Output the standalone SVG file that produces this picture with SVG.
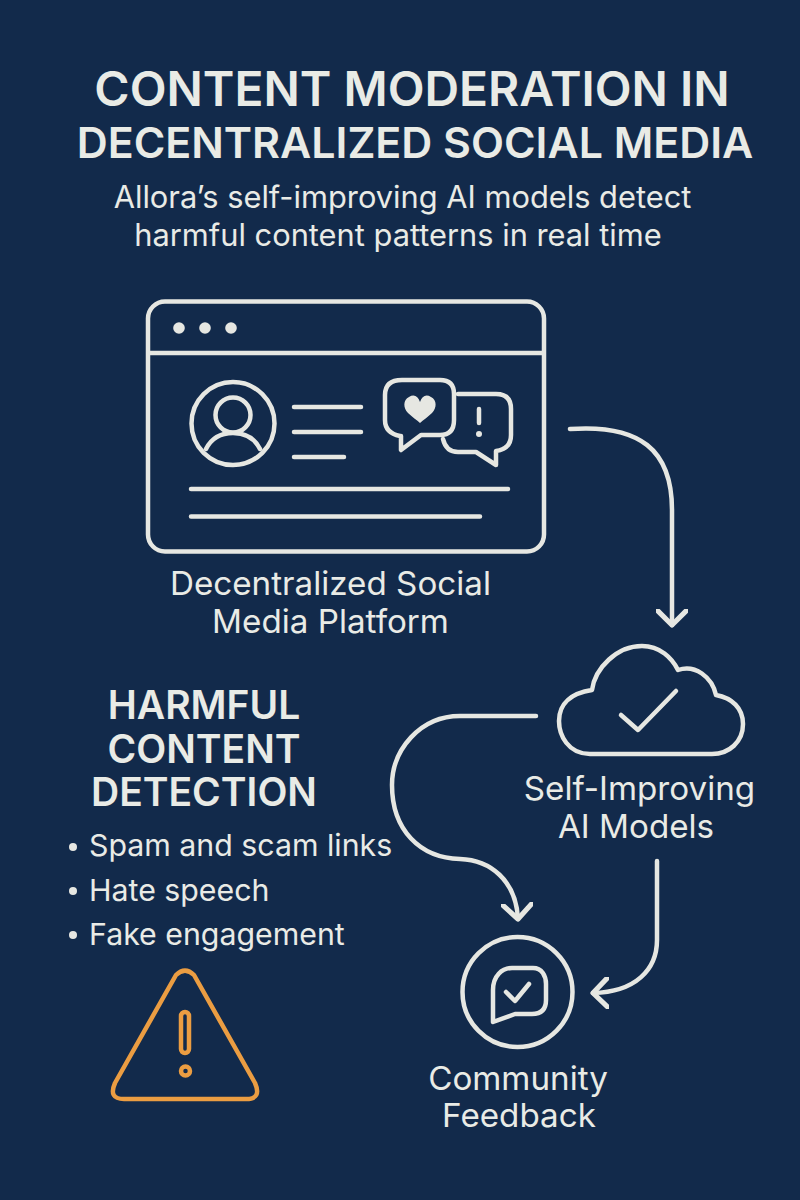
<svg xmlns="http://www.w3.org/2000/svg" width="800" height="1200" viewBox="0 0 800 1200">
<style>
text{font-family:Inter,"Noto Sans","Liberation Sans",sans-serif;fill:#e9ebe6;text-anchor:middle}
.t{font-size:47.900px;font-weight:600}
.h{font-size:42.900px;font-weight:600}
.d{font-size:39px;font-weight:600}
.s{font-size:30.800px}
.l{font-size:33.200px}
.b{font-size:30.300px;text-anchor:start}
.o{fill:none;stroke:#e6e7e2;stroke-width:4.5;stroke-linecap:round;stroke-linejoin:round}
.f{fill:#e6e7e2}
.w{fill:none;stroke:#eb9d42;stroke-width:4.5;stroke-linecap:round;stroke-linejoin:round}
</style>
<defs><marker id="a" markerUnits="userSpaceOnUse" markerWidth="32" markerHeight="32" refX="14" refY="14" orient="auto" viewBox="0 0 28 28"><path d="M1 1L14 14L1 27" fill="none" stroke="#e6e7e2" stroke-width="4.5" stroke-linecap="round" stroke-linejoin="round"/></marker></defs>
<rect width="800" height="1200" fill="#122a4b"/>
<g id="title">
<text class="t" x="412" y="106">CONTENT MODERATION IN</text>
<text class="h" x="415" y="158">DECENTRALIZED SOCIAL MEDIA</text>
<text class="s" x="402.500" y="208">Allora’s self-improving AI models detect</text>
<text class="s" x="398" y="246">harmful content patterns in real time</text>
</g>
<g id="platform">
<rect class="o" x="148" y="301.500" width="396" height="250" rx="17"/>
<path class="o" d="M150 353H542"/>
<circle class="f" cx="179" cy="328" r="5.800"/><circle class="f" cx="205" cy="328" r="5.800"/><circle class="f" cx="231" cy="328" r="5.800"/>
<circle class="o" cx="233" cy="423.500" r="41.500"/>
<circle class="o" cx="233" cy="415" r="17.500"/>
<path class="o" d="M206 449C212 437 222 433 233 433S254 437 260 449"/>
<path class="o" d="M294 407H361M294 432H361M294 457H344M191 489H508M191 516.500H480"/>
<path class="o" d="M402 380H440Q454 380 454 394V420Q454 435 440 435H421L401 450V436H400Q385 433 385 420V395Q385 380 402 380Z"/>
<path class="o" d="M458 394H496Q511 394 511 409V435Q511 449 496 451V465L476 452H458Q446 452 443 439"/>
<path class="f" d="M420 402C418 396 414 394 409 397C403 400 403 408 408 413C412 417 417 420 420 423C423 420 428 417 432 413C437 408 437 400 431 397C426 394 422 396 420 402Z"/>
<path class="o" d="M479 409V423"/><circle class="f" cx="479" cy="434" r="3"/>
<text class="l" x="330.500" y="595">Decentralized Social</text>
<text class="l" x="330.500" y="633">Media Platform</text>
</g>
<g id="ai-models">
<path class="o" d="M590 754C568 754 559 735 559 721C559 703 572 693 592 690C595 668 617 646 642 646C660 646 672 658 678 670C695 664 712 677 716 695C732 698 743 708 743 724C743 742 729 754 712 754Z"/>
<path class="o" d="M621 715L638 730L676 691"/>
<text class="l" x="639.500" y="800">Self-Improving</text>
<text class="l" x="636" y="838">AI Models</text>
</g>
<g id="community">
<circle class="o" cx="517.500" cy="992" r="55"/>
<path class="o" d="M493 1022V990C493 976 502 968 512 968H533C542 968 546 976 546 984V1000C546 1010 541 1014 532 1014H515Z"/>
<path class="o" d="M506 992L515 1001L529 984"/>
<text class="l" x="518" y="1090">Community</text>
<text class="l" x="519" y="1127">Feedback</text>
</g>
<g id="harmful">
<text class="d" x="204" y="719">HARMFUL</text>
<text class="d" x="204" y="763">CONTENT</text>
<text class="d" x="204" y="806">DETECTION</text>
<circle class="f" cx="73" cy="847" r="4"/><text class="b" x="89" y="856">Spam and scam links</text>
<circle class="f" cx="73" cy="891" r="4"/><text class="b" x="89" y="901">Hate speech</text>
<circle class="f" cx="73" cy="935" r="4"/><text class="b" x="89" y="945">Fake engagement</text>
<path class="w" d="M176 975Q185 966 194 975L255 1083Q262 1099 246 1099H124Q108 1099 115 1083Z"/>
<rect class="w" x="181" y="1012" width="8" height="41" rx="4"/>
<circle class="w" cx="185.500" cy="1071" r="4.500"/>
</g>
<g id="connectors">
<path class="o" d="M570 429C640 424 672 450 672 510V625" marker-end="url(#a)"/>
<path class="o" d="M536 716H460C420 716 392 750 392 785C392 830 420 858 460 859C490 860 516 880 518 919" marker-end="url(#a)"/>
<path class="o" d="M657 861V940C657 970 635 992 593 993" marker-end="url(#a)"/>
</g>
</svg>
